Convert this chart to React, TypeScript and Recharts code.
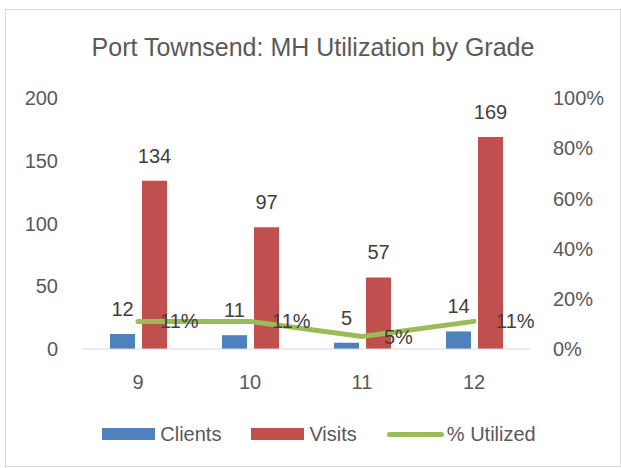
import React from "react";
import {
  Bar,
  ComposedChart,
  LabelList,
  Legend,
  Line,
  XAxis,
  YAxis,
} from "recharts";

const grades = ["9", "10", "11", "12"];
const clients = [12, 11, 5, 14];
const visits = [134, 97, 57, 169];
const utilized = [0.11, 0.11, 0.05, 0.11];

const countTicks = [0, 50, 100, 150, 200];
const pctTicks = [0, 0.2, 0.4, 0.6, 0.8, 1];

const BLUE = "#4F81BD";
const RED = "#C0504D";
const GREEN = "#9BBB59";
const TEXT = "#595959";
const FONT = "'Liberation Sans', Arial, sans-serif";

const data = grades.map((grade, i) => ({
  grade,
  clients: clients[i],
  visits: visits[i],
  utilized: utilized[i],
}));

const pct = (v: number) => `${Math.round(v * 100)}%`;

function LegendBox() {
  const item = { display: "flex", alignItems: "center", marginRight: 30 } as const;
  const label = { marginLeft: 5, color: TEXT, fontSize: 20 };
  return (
    <div
      style={{
        height: 30,
        display: "flex",
        justifyContent: "center",
        alignItems: "center",
        fontFamily: FONT,
        paddingLeft: 12,
      }}
    >
      <div style={item}>
        <div style={{ width: 53, height: 12, background: BLUE }} />
        <span style={label}>Clients</span>
      </div>
      <div style={item}>
        <div style={{ width: 53, height: 12, background: RED }} />
        <span style={label}>Visits</span>
      </div>
      <div style={{ ...item, marginRight: 0 }}>
        <div style={{ width: 57, height: 5, borderRadius: 3, background: GREEN }} />
        <span style={{ ...label, marginLeft: 3 }}>% Utilized</span>
      </div>
    </div>
  );
}

export default function App() {
  return (
    <div
      style={{
        position: "absolute",
        left: 5,
        top: 9,
        width: 614,
        height: 456,
        border: "1px solid #D9D9D9",
        background: "#fff",
        fontFamily: FONT,
      }}
    >
      <div
        style={{
          position: "absolute",
          top: 22,
          left: 0,
          width: 614,
          textAlign: "center",
          fontSize: 25,
          color: TEXT,
          lineHeight: "30px",
        }}
      >
        Port Townsend: MH Utilization by Grade
      </div>
      <ComposedChart
        width={614}
        height={456}
        data={data}
        margin={{ top: 88, right: 0, bottom: 17, left: 0 }}
        barSize={25}
        barGap={7}
      >
        <XAxis
          dataKey="grade"
          height={70}
          tickLine={false}
          tickSize={0}
          tickMargin={26}
          axisLine={{ stroke: "#D9D9D9" }}
          tick={{ fill: TEXT, fontSize: 20 }}
        />
        <YAxis
          yAxisId="count"
          width={76}
          domain={[0, 200]}
          ticks={countTicks}
          axisLine={false}
          tickLine={false}
          tickSize={0}
          tickMargin={24}
          tick={{ fill: TEXT, fontSize: 20 }}
        />
        <YAxis
          yAxisId="pct"
          orientation="right"
          width={90}
          domain={[0, 1]}
          ticks={pctTicks}
          tickFormatter={pct}
          axisLine={false}
          tickLine={false}
          tickSize={0}
          tickMargin={23}
          tick={{ fill: TEXT, fontSize: 20, textAnchor: "start" }}
        />
        <Legend verticalAlign="bottom" height={30} content={() => <LegendBox />} />
        <Bar yAxisId="count" dataKey="clients" name="Clients" fill={BLUE} isAnimationActive={false}>
          <LabelList dataKey="clients" position="top" offset={18} fill="#404040" fontSize={20} />
        </Bar>
        <Bar yAxisId="count" dataKey="visits" name="Visits" fill={RED} isAnimationActive={false}>
          <LabelList dataKey="visits" position="top" offset={18} fill="#404040" fontSize={20} />
        </Bar>
        <Line
          yAxisId="pct"
          dataKey="utilized"
          name="% Utilized"
          stroke={GREEN}
          strokeWidth={5}
          strokeLinecap="round"
          strokeLinejoin="round"
          dot={false}
          isAnimationActive={false}
        >
          <LabelList
            dataKey="utilized"
            position="right"
            offset={22}
            formatter={(v: any) => pct(Number(v))}
            fill="#404040"
            fontSize={20}
          />
        </Line>
      </ComposedChart>
    </div>
  );
}
